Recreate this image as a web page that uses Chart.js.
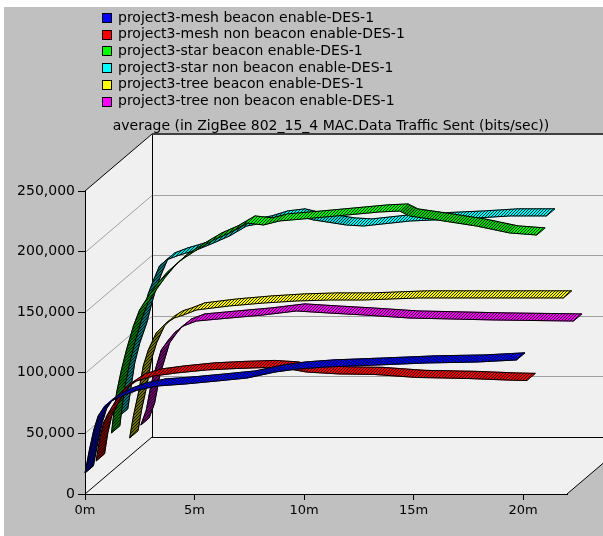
<!DOCTYPE html>
<html>
<head>
<meta charset="utf-8">
<script src="https://cdn.jsdelivr.net/npm/chart.js@4"></script>
<style>
  html, body { margin: 0; padding: 0; background: #fff; }
  canvas { display: block; }
</style>
</head>
<body>
<canvas id="myChart" width="603" height="536"></canvas>
<script>
// values (time in minutes, bits/sec)
const meshBeaconT = [0, 0.2, 0.4, 0.6, 0.9, 1.3, 1.8, 2.4, 3.3, 4.6, 6.0, 7.4, 8.7, 9.7, 11.0, 13.3, 15.6, 17.9, 19.7];
const meshBeaconV = [17300, 36300, 52800, 64400, 72600, 77600, 81700, 85800, 89100, 90800, 93200, 95700, 100700, 103100, 104800, 106400, 108100, 108900, 110600];

const meshNonBeaconT = [0, 0.15, 0.33, 0.56, 0.83, 1.24, 1.84, 2.61, 3.66, 5.03, 6.4, 7.77, 8.82, 9.6, 11.1, 12.67, 14.63, 16.9, 18.75, 19.66];
const meshNonBeaconV = [19400, 36700, 50700, 59000, 67200, 78000, 85400, 89500, 92000, 94500, 95700, 96500, 95300, 92800, 91200, 90800, 88300, 87500, 86200, 85800];

const starBeaconT = [0.19, 0.28, 0.42, 0.64, 0.87, 1.19, 1.47, 1.88, 2.24, 2.70, 3.30, 4.07, 4.85, 5.58, 6.36, 7.13, 7.86, 9.41, 10.92, 12.42, 13.34, 13.79, 15.35, 16.85, 18.36, 19.6];
const starBeaconV = [34700, 48700, 67700, 86600, 103100, 122900, 136100, 147700, 156800, 166700, 176600, 185600, 193900, 199700, 207900, 206300, 209600, 212000, 214500, 217000, 217800, 213700, 209600, 205400, 199700, 198000];

const starNonBeaconT = [0.04, 0.22, 0.36, 0.59, 0.91, 1.14, 1.37, 1.60, 1.87, 2.19, 2.79, 3.56, 4.34, 5.07, 5.85, 6.62, 7.35, 8.13, 8.90, 10.41, 11.19, 13.29, 16.35, 17.85, 19.54];
const starNonBeaconV = [40800, 62300, 78800, 95300, 111800, 128300, 142300, 153100, 164600, 169600, 173700, 177800, 183600, 189400, 197600, 200100, 204200, 205900, 202600, 198400, 197600, 201700, 204200, 205900, 205900];

const treeBeaconT = [0, 0.17, 0.40, 0.62, 0.85, 1.21, 1.67, 2.04, 2.45, 3.05, 4.55, 6.10, 7.61, 9.12, 10.67, 13.2, 15.8, 19.8];
const treeBeaconV = [14900, 33000, 52000, 74300, 87500, 101500, 109700, 113900, 116300, 120500, 123800, 126200, 127900, 128700, 128700, 130400, 130400, 130400];

const treeNonBeaconT = [0, 0.25, 0.48, 0.71, 0.93, 1.26, 1.53, 1.94, 2.53, 4.04, 5.59, 7.10, 8.61, 10.16, 12.26, 16.1, 19.75];
const treeNonBeaconV = [17700, 30100, 52400, 66400, 79600, 87900, 93600, 99400, 103500, 106000, 108500, 111800, 110100, 108500, 106000, 104400, 103500];

const seriesNames = [
  'project3-mesh beacon enable-DES-1',
  'project3-mesh non beacon enable-DES-1',
  'project3-star beacon enable-DES-1',
  'project3-star non beacon enable-DES-1',
  'project3-tree beacon enable-DES-1',
  'project3-tree non beacon enable-DES-1'
];
const seriesT = [meshBeaconT, meshNonBeaconT, starBeaconT, starNonBeaconT, treeBeaconT, treeNonBeaconT];
const seriesV = [meshBeaconV, meshNonBeaconV, starBeaconV, starNonBeaconV, treeBeaconV, treeNonBeaconV];
const seriesRGB = [[0, 0, 255], [255, 0, 0], [0, 255, 0], [0, 255, 255], [255, 255, 0], [255, 0, 255]];

const xTicks = [0, 5, 10, 15, 20];
const yTicks = [0, 50000, 100000, 150000, 200000, 250000];
const titleText = 'average (in ZigBee 802_15_4 MAC.Data Traffic Sent (bits/sec))';

// 3d look: screen vector from front plane to back wall
const DEPTH = { x: 67, y: -57 };
const FONT = '14px "DejaVu Sans"';

function rgbStr(c, f) {
  return 'rgb(' + c.map(v => Math.round(v * f)).join(',') + ')';
}

// colour with thin dark diagonal stripes
function makeHatch(ctx, c, f) {
  let tile = document.createElement('canvas');
  tile.width = 3; tile.height = 3;
  let g = tile.getContext('2d');
  g.fillStyle = rgbStr(c, f);
  g.fillRect(0, 0, 3, 3);
  g.fillStyle = rgbStr(c, f * 0.15);
  for (let i = 0; i < 3; ++i) g.fillRect(i, 2 - i, 1, 1);
  return ctx.createPattern(tile, 'repeat');
}

const backdrop = {
  id: 'backdrop',
  beforeDraw(chart) {
    const ctx = chart.ctx;
    const xs = chart.scales.x, ys = chart.scales.y;
    const x0 = xs.getPixelForValue(0), x1 = xs.right;
    const yb = ys.getPixelForValue(0), yt = ys.getPixelForValue(250000);
    const W = chart.width, H = chart.height;
    ctx.save();
    ctx.fillStyle = '#fff';
    ctx.fillRect(0, 0, W, H);
    ctx.fillStyle = '#c0c0c0';
    ctx.fillRect(4, 7, W - 4, H - 7);

    // walls and floor
    ctx.fillStyle = '#f0f0f0';
    ctx.beginPath();
    ctx.moveTo(x0, yt); ctx.lineTo(x0 + DEPTH.x, yt + DEPTH.y);
    ctx.lineTo(W + 40, yt + DEPTH.y); ctx.lineTo(W + 40, yb + DEPTH.y);
    ctx.lineTo(x1 + DEPTH.x, yb + DEPTH.y); ctx.lineTo(x1, yb);
    ctx.lineTo(x0, yb); ctx.closePath();
    ctx.fill();

    // grid lines on the walls
    ctx.strokeStyle = '#a0a0a0';
    ctx.lineWidth = 1;
    yTicks.slice(1, -1).forEach(v => {
      const y = Math.round(ys.getPixelForValue(v)) + 0.5;
      ctx.beginPath();
      ctx.moveTo(x0, y);
      ctx.lineTo(x0 + DEPTH.x, y + DEPTH.y);
      ctx.lineTo(W + 40, y + DEPTH.y);
      ctx.stroke();
    });

    // edges
    ctx.strokeStyle = '#000';
    ctx.beginPath();
    ctx.moveTo(x0, yt); ctx.lineTo(x0 + DEPTH.x, yt + DEPTH.y);
    ctx.moveTo(x0, yb); ctx.lineTo(x0 + DEPTH.x, yb + DEPTH.y);
    ctx.moveTo(x0 + DEPTH.x + 0.5, yt + DEPTH.y); ctx.lineTo(x0 + DEPTH.x + 0.5, yb + DEPTH.y);
    ctx.moveTo(x0 + DEPTH.x, Math.round(yb + DEPTH.y) + 0.5); ctx.lineTo(W + 40, Math.round(yb + DEPTH.y) + 0.5);
    ctx.moveTo(x1, yb); ctx.lineTo(x1 + DEPTH.x, yb + DEPTH.y);
    ctx.stroke();
    ctx.strokeStyle = '#404040';
    ctx.lineWidth = 2;
    ctx.beginPath();
    ctx.moveTo(x0 + DEPTH.x, Math.round(yt + DEPTH.y)); ctx.lineTo(W + 40, Math.round(yt + DEPTH.y));
    ctx.stroke();

    // legend
    ctx.font = FONT;
    ctx.textBaseline = 'middle';
    ctx.textAlign = 'left';
    seriesNames.forEach((name, i) => {
      const cy = 18 + i * 16.7;
      ctx.fillStyle = rgbStr(seriesRGB[i], 1);
      ctx.fillRect(102, Math.round(cy) - 5, 10, 10);
      ctx.strokeStyle = '#000';
      ctx.lineWidth = 1;
      ctx.strokeRect(102.5, Math.round(cy) - 4.5, 9, 9);
      ctx.fillStyle = '#000';
      ctx.fillText(name, 118, cy);
    });

    // title
    ctx.textAlign = 'center';
    ctx.fillText(titleText, 331, 126);
    ctx.restore();
  }
};

const ribbons = {
  id: 'ribbons',
  afterDatasetsDraw(chart) {
    const ctx = chart.ctx;
    const V = { x: DEPTH.x * 0.125, y: DEPTH.y * 0.125 };
    ctx.save();
    for (let k = seriesNames.length - 1; k >= 0; --k) {
      const meta = chart.getDatasetMeta(k);
      const off = { x: DEPTH.x * k / 6, y: DEPTH.y * k / 6 };
      const pts = meta.data.map(p => ({ x: p.x + off.x, y: p.y + off.y }));
      const pats = [0, 1, 2, 3, 4].map(l => makeHatch(ctx, seriesRGB[k], 1 - 0.14 * l));
      ctx.lineJoin = 'round';
      for (let i = 0; i < pts.length - 1; ++i) {
        const a = pts[i], b = pts[i + 1];
        const len = Math.hypot(b.x - a.x, b.y - a.y) || 1;
        const steep = Math.abs(b.y - a.y) / len;
        ctx.fillStyle = pats[Math.round(steep * 4)];
        ctx.strokeStyle = ctx.fillStyle;
        ctx.lineWidth = 0.8;
        ctx.beginPath();
        ctx.moveTo(a.x, a.y); ctx.lineTo(b.x, b.y);
        ctx.lineTo(b.x + V.x, b.y + V.y); ctx.lineTo(a.x + V.x, a.y + V.y);
        ctx.closePath();
        ctx.fill();
        ctx.stroke();
      }
      ctx.strokeStyle = '#000';
      ctx.lineWidth = 1;
      ctx.beginPath();
      pts.forEach((p, i) => i ? ctx.lineTo(p.x, p.y) : ctx.moveTo(p.x, p.y));
      pts.slice().reverse().forEach(p => ctx.lineTo(p.x + V.x, p.y + V.y));
      ctx.closePath();
      ctx.stroke();
    }
    ctx.restore();
  }
};

const datasets = seriesNames.map((name, k) => ({
  label: name,
  data: seriesT[k].map((t, i) => ({ x: t, y: seriesV[k][i] })),
  showLine: false,
  pointRadius: 0,
  borderColor: rgbStr(seriesRGB[k], 1)
}));

const myChart = new Chart(document.getElementById('myChart'), {
  type: 'line',
  data: { datasets: datasets },
  options: {
    responsive: false,
    animation: false,
    events: [],
    layout: { padding: { left: 5, top: 191, right: 36, bottom: 0 } },
    plugins: { legend: { display: false }, tooltip: { enabled: false } },
    scales: {
      x: {
        type: 'linear', min: 0, max: 22,
        afterFit: s => { s.height = 42; },
        afterBuildTicks: s => { s.ticks = xTicks.map(v => ({ value: v })); },
        ticks: { callback: v => v + 'm', color: '#000', font: { family: 'DejaVu Sans', size: 13 }, padding: 3, maxRotation: 0, autoSkip: false },
        grid: { drawOnChartArea: false, tickLength: 6, color: '#000' },
        border: { color: '#000' }
      },
      y: {
        type: 'linear', min: 0, max: 250000,
        afterFit: s => { s.width = 80; },
        afterBuildTicks: s => { s.ticks = yTicks.map(v => ({ value: v })); },
        ticks: { callback: v => v.toLocaleString('en-US'), color: '#000', font: { family: 'DejaVu Sans', size: 14 }, padding: 3 },
        grid: { drawOnChartArea: false, tickLength: 7, color: '#000' },
        border: { color: '#000' }
      }
    }
  },
  plugins: [backdrop, ribbons]
});
</script>
</body>
</html>
